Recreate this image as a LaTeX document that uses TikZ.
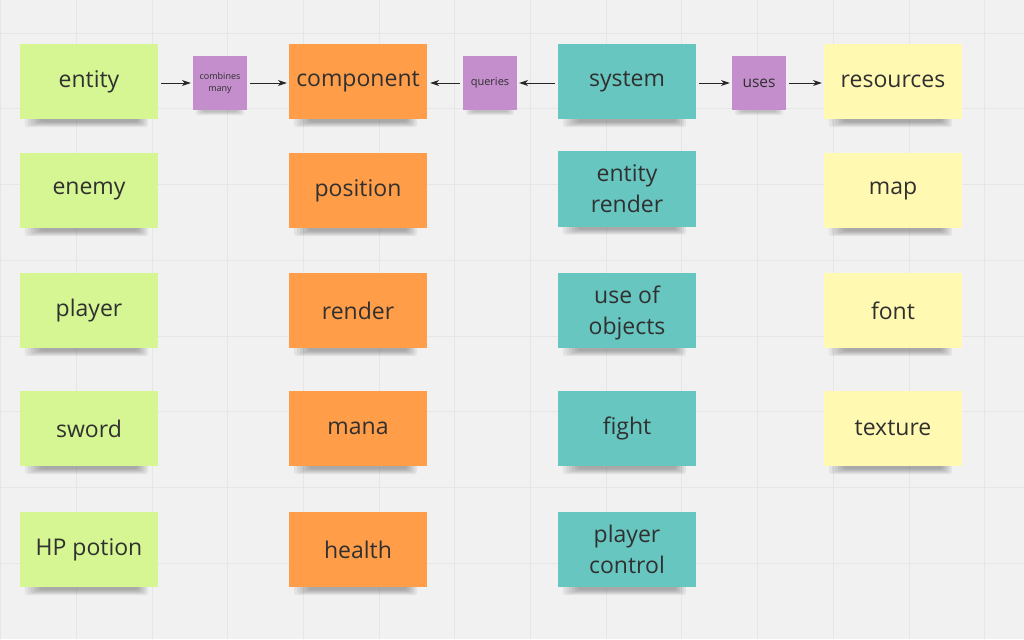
\documentclass[tikz,border=0pt]{standalone}
\usepackage{fontspec}
\setmainfont{Open Sans}
\usetikzlibrary{arrows.meta}
\pgfdeclarelayer{gridlayer}
\pgfdeclarelayer{shadowlayer}
\pgfsetlayers{gridlayer,shadowlayer,main}
\definecolor{bg}{HTML}{F1F1F1}
\definecolor{gridc}{HTML}{E6E6E6}
\definecolor{sgreen}{HTML}{D5F692}
\definecolor{sorange}{HTML}{FF9D48}
\definecolor{steal}{HTML}{67C6C0}
\definecolor{syellow}{HTML}{FFF9B1}
\definecolor{spurple}{HTML}{C38ECB}
\definecolor{txt}{HTML}{303030}
\tikzset{
  sticky/.style={draw=none, minimum width=138pt, minimum height=75pt, inner sep=0pt,
    align=center, text=txt, font=\fontsize{23}{31}\selectfont},
  gnote/.style={sticky, fill=sgreen},
  onote/.style={sticky, fill=sorange},
  tnote/.style={sticky, fill=steal},
  ynote/.style={sticky, fill=syellow},
  pnote/.style={draw=none, fill=spurple, minimum width=54pt, minimum height=54pt, inner sep=0pt,
    align=center, text=txt},
  shadowpart/.style={fill=black, opacity=0.055, rounded corners=3pt},
  arr/.style={draw=black!85, line width=0.9pt, -{Stealth[length=9pt,width=6pt]}}
}
\begin{document}
\begin{tikzpicture}[x=1pt,y=-1pt]
\useasboundingbox (0,0) rectangle (1024,639);
\begin{pgfonlayer}{gridlayer}
\fill[bg] (0,0) rectangle (1024,639);
\foreach \i in {0,...,13} {
  \draw[gridc, line width=0.6pt] ({0.4+75.7*\i},0) -- ({0.4+75.7*\i},639);
}
\foreach \j in {0,...,7} {
  \draw[gridc, line width=0.6pt] (0,{33+75.7*\j}) -- (1024,{33+75.7*\j});
}
\end{pgfonlayer}
% column 1
\node[gnote] (entity) at (89,81.5) {entity};
\node[gnote] (enemy) at (89,190.5) {enemy};
\node[gnote] (player) at (89,310.5) {player};
\node[gnote] (sword) at (89,428.5) {sword};
\node[gnote] (hppotion) at (89,549.5) {HP potion};
% column 2
\node[onote] (component) at (358,81.5) {component};
\node[onote] (position) at (358,190.5) {position};
\node[onote] (render) at (358,310.5) {render};
\node[onote] (mana) at (358,428.5) {mana};
\node[onote] (health) at (358,549.5) {health};
% column 3
\node[tnote] (system) at (627,81.5) {system};
\node[tnote] (entityrender) at (627,189) {entity\\render};
\node[tnote, text depth=0pt] (useobj) at (627,310.5) {use of\\objects};
\node[tnote] (fight) at (627,428.5) {fight};
\node[tnote] (playerctl) at (627,549.5) {player\\control};
% column 4
\node[ynote] (resources) at (893,81.5) {resources};
\node[ynote] (map) at (893,190.5) {map};
\node[ynote] (font) at (893,310.5) {font};
\node[ynote] (texture) at (893,428.5) {texture};
% purple labels
\node[pnote, font=\fontsize{9}{12}\selectfont] (combines) at (220,83) {combines\\many};
\node[pnote, font=\fontsize{11}{13}\selectfont] (queries) at (490,83) {queries};
\node[pnote, font=\fontsize{15.5}{18}\selectfont] (uses) at (759,83) {uses};
% shadows
\begin{pgfonlayer}{shadowlayer}
\foreach \n in {entity,enemy,player,sword,hppotion,component,position,render,mana,health,system,entityrender,useobj,fight,playerctl,resources,map,font,texture} {
  \foreach \k in {0,...,5} {
    \fill[shadowpart] ([xshift={(5+3*\k)*1pt}, yshift=10pt]\n.south west) rectangle ([xshift={-(10+2*\k)*1pt}, yshift={-(8-\k)*1pt}]\n.south east);
  }
}
\foreach \n in {combines,queries,uses} {
  \foreach \k in {0,...,3} {
    \fill[shadowpart] ([xshift={(3+2*\k)*1pt}, yshift=8pt]\n.south west) rectangle ([xshift={-(3+2*\k)*1pt}, yshift={-(5-\k)*1pt}]\n.south east);
  }
}
\end{pgfonlayer}
% arrows
\draw[arr, shorten <=3pt, shorten >=2pt] (entity.east |- combines.center) -- (combines.west);
\draw[arr, shorten <=3pt, shorten >=2pt] (combines.east) -- (component.west |- combines.center);
\draw[arr, shorten <=3pt, shorten >=2pt] (system.west |- queries.center) -- (queries.east);
\draw[arr, shorten <=3pt, shorten >=3pt] (queries.west) -- (component.east |- queries.center);
\draw[arr, shorten <=3pt, shorten >=2pt] (system.east |- uses.center) -- (uses.west);
\draw[arr, shorten <=3pt, shorten >=2pt] (uses.east) -- (resources.west |- uses.center);
\end{tikzpicture}
\end{document}
